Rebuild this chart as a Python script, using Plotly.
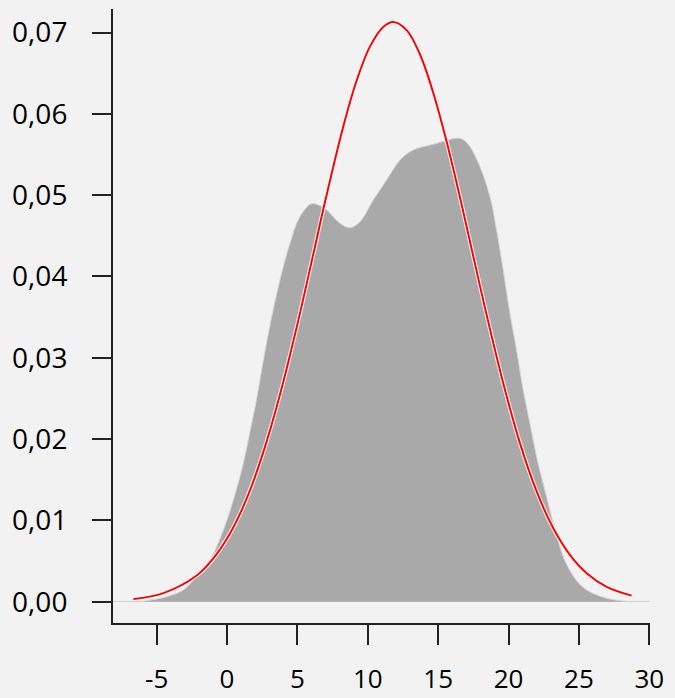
import plotly.graph_objects as go

# Kernel density (grey area)
dens_x = [-6.18, -4.28, -3.10, -2.39, -1.21, -0.26, 0.45, 1.16, 1.63, 2.11, 2.58, 3.17,
          3.76, 4.47, 5.18, 6.00, 6.60, 7.08, 8.03, 8.74, 9.45, 10.39, 11.34, 12.29,
          13.23, 14.65, 15.48, 16.19, 16.70, 17.26, 17.97, 18.68, 19.15, 19.62, 20.10,
          20.57, 21.04, 21.52, 21.99, 22.70, 23.41, 24.12, 25.30, 26.97, 28.74]
dens_y = [0.0000, 0.00062, 0.00144, 0.00267, 0.00513, 0.00882, 0.01251, 0.01702, 0.02090,
          0.02500, 0.02970, 0.03500, 0.03957, 0.04408, 0.04736, 0.04895, 0.04870, 0.04818,
          0.04654, 0.04600, 0.04674, 0.04941, 0.05187, 0.05433, 0.05556, 0.05626, 0.05667,
          0.05700, 0.05690, 0.05597, 0.05351, 0.04982, 0.04572, 0.04080, 0.03547, 0.03096,
          0.02604, 0.02194, 0.01784, 0.01292, 0.00820, 0.00460, 0.00175, 0.00042, 0.0000]

# Normal curve (red)
norm_x = [-6.65, -4.52, -2.15, -0.97, 0.21, 1.40, 2.58, 3.76, 4.95, 6.13, 6.96, 8.26,
          9.21, 10.16, 11.10, 11.81, 12.76, 13.71, 14.65, 15.60, 16.55, 17.26, 18.44,
          19.62, 20.81, 21.99, 23.17, 24.36, 25.55, 26.97, 28.74]
norm_y = [0.00032, 0.00105, 0.00322, 0.00532, 0.00838, 0.0127, 0.01840, 0.02545, 0.03375,
          0.04275, 0.04915, 0.05845, 0.06410, 0.06830, 0.07070, 0.07130, 0.07030, 0.06730,
          0.06260, 0.05660, 0.04975, 0.04430, 0.03530, 0.02690, 0.01950, 0.01360, 0.00906,
          0.00576, 0.00350, 0.00183, 0.00075]

x_ticks = [-5, 0, 5, 10, 15, 20, 25, 30]
x_tick_text = ["-5", "0", "5", "10", "15", "20", "25", "30"]
y_ticks = [0.00, 0.01, 0.02, 0.03, 0.04, 0.05, 0.06, 0.07]

fig = go.Figure()
fig.add_trace(go.Scatter(x=dens_x, y=dens_y, mode="lines", fill="tozeroy",
                         fillcolor="#a9a9a9",
                         line=dict(color="#d6d6d6", width=1, shape="spline", smoothing=1.0),
                         hoverinfo="skip", showlegend=False))
fig.add_trace(go.Scatter(x=norm_x, y=norm_y, mode="lines",
                         line=dict(color="white", width=4, shape="spline", smoothing=1.0),
                         hoverinfo="skip", showlegend=False))
fig.add_trace(go.Scatter(x=norm_x, y=norm_y, mode="lines",
                         line=dict(color="#ff0000", width=2, shape="spline", smoothing=1.0),
                         showlegend=False))

fig.update_layout(
    width=675, height=698,
    margin=dict(l=113, r=25, t=9, b=75),
    paper_bgcolor="#f2f2f2", plot_bgcolor="#f2f2f2",
    separators=",.",
    showlegend=False,
    xaxis=dict(range=[-8.1, 30.05], tickvals=x_ticks, ticktext=x_tick_text,
               ticks="outside", ticklen=20,
               tickwidth=2, tickcolor="#222222", showline=True, linewidth=2,
               linecolor="#222222", showgrid=False, zeroline=False, automargin=False,
               tickfont=dict(family="Open Sans", size=26, color="#000000"),
               ticklabelstandoff=12),
    yaxis=dict(range=[-0.00262, 0.0729], tickvals=y_ticks, tickformat=".2f",
               ticks="outside", ticklen=19, tickwidth=2, tickcolor="#222222",
               showline=True, linewidth=2, linecolor="#222222", showgrid=False,
               zeroline=True, zerolinecolor="#d2d2d2", zerolinewidth=1, automargin=False,
               tickfont=dict(family="Open Sans", size=28, color="#000000"),
               ticklabelstandoff=19),
)
fig.write_html("out.html")
